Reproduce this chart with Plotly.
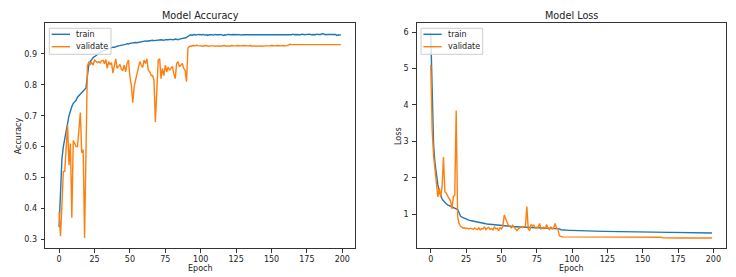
import plotly.graph_objects as go

epochs = list(range(200))

train_acc = [
    0.34, 0.49, 0.56, 0.60, 0.63, 0.655, 0.675, 0.70, 0.72, 0.73,
    0.74, 0.745, 0.75, 0.76, 0.765, 0.772, 0.777, 0.781, 0.785, 0.79,
    0.83, 0.865, 0.875, 0.882, 0.888, 0.891, 0.895, 0.899, 0.903, 0.906,
    0.908, 0.910, 0.912, 0.914, 0.916, 0.918, 0.919, 0.920, 0.922, 0.921,
    0.924, 0.925, 0.926, 0.927, 0.926, 0.929, 0.930, 0.931, 0.933, 0.932,
    0.934, 0.935, 0.934, 0.936, 0.937, 0.936, 0.937, 0.938, 0.940, 0.939,
    0.941, 0.942, 0.941, 0.942, 0.943, 0.942, 0.944, 0.943, 0.944, 0.945,
    0.944, 0.945, 0.946, 0.945, 0.944, 0.946, 0.945, 0.946, 0.947, 0.946,
    0.947, 0.946, 0.948, 0.947, 0.946, 0.948, 0.949, 0.948, 0.949, 0.950,
    0.953, 0.957, 0.961, 0.962, 0.960, 0.963, 0.962, 0.961, 0.963, 0.962,
    0.961, 0.962, 0.963, 0.961, 0.962, 0.960, 0.962, 0.963, 0.962, 0.961,
    0.963, 0.962, 0.961, 0.962, 0.963, 0.962, 0.960, 0.962, 0.961, 0.963,
    0.962, 0.961, 0.962, 0.963, 0.962, 0.961, 0.962, 0.963, 0.961, 0.962,
    0.962, 0.963, 0.961, 0.962, 0.962, 0.961, 0.963, 0.962, 0.961, 0.962,
    0.963, 0.962, 0.961, 0.962, 0.963, 0.962, 0.961, 0.963, 0.962, 0.962,
    0.961, 0.962, 0.963, 0.962, 0.961, 0.962, 0.963, 0.962, 0.962, 0.961,
    0.963, 0.962, 0.962, 0.963, 0.962, 0.964, 0.962, 0.963, 0.962, 0.963,
    0.962, 0.963, 0.964, 0.962, 0.963, 0.962, 0.963, 0.964, 0.962, 0.963,
    0.963, 0.962, 0.964, 0.963, 0.962, 0.963, 0.966, 0.963, 0.962, 0.963,
    0.963, 0.962, 0.963, 0.964, 0.962, 0.963, 0.960, 0.962, 0.961, 0.962,
]

val_acc = [
    0.39, 0.31, 0.41, 0.52, 0.52, 0.61, 0.67, 0.54, 0.61, 0.37,
    0.62, 0.61, 0.60, 0.60, 0.66, 0.71, 0.58, 0.59, 0.304, 0.60,
    0.86, 0.875, 0.866, 0.872, 0.864, 0.88, 0.877, 0.872, 0.875, 0.871,
    0.878, 0.88, 0.868, 0.882, 0.853, 0.875, 0.865, 0.872, 0.838, 0.864,
    0.884, 0.853, 0.858, 0.866, 0.85, 0.847, 0.864, 0.842, 0.869, 0.88,
    0.826, 0.80, 0.742, 0.794, 0.815, 0.837, 0.853, 0.875, 0.864, 0.856,
    0.88, 0.869, 0.884, 0.847, 0.842, 0.83, 0.83, 0.815, 0.68, 0.815,
    0.88, 0.884, 0.82, 0.853, 0.83, 0.864, 0.842, 0.858, 0.847, 0.853,
    0.86, 0.837, 0.82, 0.869, 0.875, 0.858, 0.862, 0.869, 0.853, 0.847,
    0.81, 0.919, 0.924, 0.925, 0.928, 0.927, 0.926, 0.928, 0.927, 0.926,
    0.927, 0.926, 0.925, 0.927, 0.926, 0.926, 0.925, 0.926, 0.927, 0.926,
    0.925, 0.926, 0.927, 0.926, 0.925, 0.926, 0.926, 0.927, 0.925, 0.926,
    0.926, 0.925, 0.927, 0.926, 0.925, 0.926, 0.927, 0.926, 0.925, 0.926,
    0.927, 0.926, 0.925, 0.926, 0.926, 0.927, 0.925, 0.926, 0.926, 0.925,
    0.926, 0.927, 0.926, 0.925, 0.926, 0.927, 0.926, 0.926, 0.925, 0.926,
    0.927, 0.926, 0.925, 0.926, 0.927, 0.926, 0.925, 0.926, 0.927, 0.926,
    0.926, 0.927, 0.930, 0.931, 0.930, 0.930, 0.931, 0.930, 0.929, 0.930,
    0.931, 0.930, 0.930, 0.929, 0.930, 0.931, 0.930, 0.930, 0.931, 0.930,
    0.929, 0.930, 0.931, 0.930, 0.930, 0.931, 0.930, 0.929, 0.930, 0.931,
    0.930, 0.930, 0.931, 0.930, 0.929, 0.930, 0.931, 0.930, 0.930, 0.930,
]

train_loss = [
    5.96, 4.1, 2.9, 2.4, 2.05, 1.82, 1.64, 1.50, 1.42, 1.37,
    1.32, 1.29, 1.26, 1.24, 1.22, 1.19, 1.17, 1.16, 1.15, 1.13,
    1.05, 0.95, 0.92, 0.90, 0.88, 0.865, 0.85, 0.84, 0.83, 0.82,
    0.81, 0.80, 0.79, 0.785, 0.775, 0.77, 0.76, 0.755, 0.745, 0.74,
    0.735, 0.73, 0.725, 0.72, 0.715, 0.71, 0.705, 0.70, 0.695, 0.69,
    0.685, 0.68, 0.678, 0.675, 0.672, 0.67, 0.667, 0.665, 0.662, 0.66,
    0.658, 0.655, 0.653, 0.651, 0.649, 0.647, 0.645, 0.644, 0.642, 0.64,
    0.639, 0.637, 0.636, 0.635, 0.633, 0.632, 0.631, 0.63, 0.628, 0.627,
    0.626, 0.625, 0.624, 0.622, 0.621, 0.62, 0.619, 0.618, 0.617, 0.616,
    0.612, 0.60, 0.578, 0.572, 0.568, 0.565, 0.563, 0.561, 0.56, 0.558,
    0.556, 0.555, 0.554, 0.552, 0.551, 0.55, 0.549, 0.548, 0.547, 0.546,
    0.545, 0.544, 0.543, 0.542, 0.541, 0.54, 0.539, 0.538, 0.537, 0.536,
    0.535, 0.534, 0.533, 0.533, 0.532, 0.531, 0.53, 0.53, 0.529, 0.528,
    0.527, 0.527, 0.526, 0.525, 0.525, 0.524, 0.523, 0.523, 0.522, 0.521,
    0.521, 0.52, 0.519, 0.519, 0.518, 0.517, 0.517, 0.516, 0.515, 0.515,
    0.514, 0.514, 0.513, 0.512, 0.512, 0.511, 0.511, 0.51, 0.509, 0.509,
    0.508, 0.508, 0.507, 0.506, 0.506, 0.505, 0.505, 0.504, 0.504, 0.503,
    0.503, 0.502, 0.502, 0.501, 0.5, 0.5, 0.499, 0.499, 0.498, 0.498,
    0.497, 0.497, 0.496, 0.496, 0.495, 0.495, 0.494, 0.494, 0.493, 0.493,
    0.492, 0.492, 0.491, 0.491, 0.49, 0.49, 0.489, 0.489, 0.488, 0.488,
]

val_loss = [
    5.1, 3.3, 2.6, 2.2, 1.9, 1.48, 1.72, 1.47, 1.75, 2.57,
    1.62, 1.58, 1.50, 1.42, 1.37, 1.15, 1.48, 1.53, 3.85, 0.95,
    0.75, 0.68, 0.65, 0.62, 0.63, 0.61, 0.62, 0.60, 0.62, 0.61,
    0.59, 0.62, 0.60, 0.58, 0.63, 0.57, 0.61, 0.60, 0.66, 0.58,
    0.62, 0.64, 0.59, 0.61, 0.57, 0.66, 0.60, 0.62, 0.55, 0.63,
    0.60, 0.66, 0.98, 0.85, 0.78, 0.70, 0.68, 0.62, 0.70, 0.65,
    0.60, 0.55, 0.60, 0.62, 0.65, 0.63, 0.66, 0.68, 1.21, 0.60,
    0.55, 0.72, 0.68, 0.70, 0.62, 0.65, 0.63, 0.75, 0.60, 0.62,
    0.65, 0.60, 0.72, 0.62, 0.58, 0.65, 0.60, 0.63, 0.75, 0.62,
    0.60, 0.41, 0.39, 0.385, 0.38, 0.38, 0.378, 0.38, 0.376, 0.378,
    0.377, 0.379, 0.376, 0.378, 0.377, 0.375, 0.378, 0.376, 0.377, 0.379,
    0.376, 0.377, 0.375, 0.378, 0.376, 0.377, 0.375, 0.376, 0.378, 0.375,
    0.376, 0.377, 0.375, 0.376, 0.374, 0.377, 0.375, 0.376, 0.374, 0.375,
    0.376, 0.374, 0.375, 0.373, 0.376, 0.374, 0.375, 0.373, 0.374, 0.375,
    0.373, 0.374, 0.372, 0.375, 0.373, 0.374, 0.372, 0.373, 0.374, 0.372,
    0.373, 0.371, 0.374, 0.372, 0.373, 0.371, 0.372, 0.373, 0.371, 0.372,
    0.373, 0.371, 0.372, 0.371, 0.353, 0.351, 0.352, 0.350, 0.351, 0.352,
    0.350, 0.351, 0.349, 0.351, 0.350, 0.352, 0.350, 0.351, 0.349, 0.350,
    0.351, 0.349, 0.350, 0.351, 0.349, 0.350, 0.348, 0.350, 0.349, 0.350,
    0.351, 0.349, 0.350, 0.348, 0.349, 0.350, 0.349, 0.348, 0.349, 0.349,
]

x_ticks = [0, 25, 50, 75, 100, 125, 150, 175, 200]
acc_ticks = [0.3, 0.4, 0.5, 0.6, 0.7, 0.8, 0.9]
loss_ticks = [1, 2, 3, 4, 5, 6]
series_names = ["train", "validate"]

FONT = "DejaVu Sans"
TXT = "#222222"
COLORS = ["#1f77b4", "#ff7f0e"]
W, H = 736, 277


def pad_range(vals, frac=0.05):
    lo, hi = min(vals), max(vals)
    d = (hi - lo) * frac
    return [lo - d, hi + d]


# axes boxes in pixels (left, top, right, bottom)
box1 = (45, 23.3, 355, 248.3)
box2 = (416.7, 23.3, 726, 248.3)


def dom(box):
    l, t, r, b = box
    return [l / W, r / W], [1 - b / H, 1 - t / H]


xd1, yd1 = dom(box1)
xd2, yd2 = dom(box2)

panels = [
    dict(xa="x", ya="y", data=[train_acc, val_acc], title="Model Accuracy",
         ylabel="Accuracy", ylabel_dx=-26.5, ticks=acc_ticks),
    dict(xa="x2", ya="y2", data=[train_loss, val_loss], title="Model Loss",
         ylabel="Loss", ylabel_dx=-17.5, ticks=loss_ticks),
]

fig = go.Figure()
shapes = []
annotations = []
for p in panels:
    for name, color, ys in zip(series_names, COLORS, p["data"]):
        fig.add_trace(go.Scatter(x=epochs, y=ys, name=name, mode="lines",
                                 line=dict(color=color, width=1.4),
                                 xaxis=p["xa"], yaxis=p["ya"], showlegend=False))
    xr = p["xa"] + " domain"
    yr = p["ya"] + " domain"
    # title
    annotations.append(dict(text=p["title"], xref=xr, yref=yr, x=0.5, y=1,
                            xanchor="center", yanchor="middle", yshift=8,
                            showarrow=False, font=dict(family=FONT, size=9.7, color=TXT)))
    # axis labels
    annotations.append(dict(text="Epoch", xref=xr, yref=yr, x=0.5, y=0,
                            xanchor="center", yanchor="middle", yshift=-20.5,
                            showarrow=False, font=dict(family=FONT, size=8, color=TXT)))
    annotations.append(dict(text=p["ylabel"], xref=xr, yref=yr, x=0, y=0.5,
                            xanchor="center", yanchor="middle", xshift=p["ylabel_dx"],
                            textangle=-90, showarrow=False,
                            font=dict(family=FONT, size=8, color=TXT)))
    # legend box (matplotlib style, upper left)
    shapes.append(dict(type="rect", xref=xr, yref=yr, xsizemode="pixel", ysizemode="pixel",
                       xanchor=0, yanchor=1, x0=4.3, x1=66, y0=-5, y1=-31,
                       fillcolor="rgba(255,255,255,0.8)",
                       line=dict(color="#cccccc", width=1), layer="above"))
    for i, (name, color) in enumerate(zip(series_names, COLORS)):
        yoff = -11 - 12.4 * i
        shapes.append(dict(type="line", xref=xr, yref=yr, xsizemode="pixel",
                           ysizemode="pixel", xanchor=0, yanchor=1, x0=6.7, x1=25,
                           y0=yoff, y1=yoff, line=dict(color=color, width=1.4),
                           layer="above"))
        annotations.append(dict(text=name, xref=xr, yref=yr, x=0, y=1,
                                xanchor="left", yanchor="middle", xshift=29,
                                yshift=yoff, showarrow=False,
                                font=dict(family=FONT, size=8, color=TXT)))

axis_common = dict(
    showline=True, linecolor="#333333", linewidth=0.8, mirror=True,
    ticks="outside", ticklen=3.5, tickwidth=0.8, tickcolor="#333333",
    showgrid=False, zeroline=False,
    tickfont=dict(family=FONT, size=8, color=TXT),
    automargin=False,
)

fig.update_layout(
    width=W, height=H,
    margin=dict(l=0, r=0, t=0, b=0),
    paper_bgcolor="white", plot_bgcolor="white",
    font=dict(family=FONT, size=8, color=TXT),
    showlegend=False,
    xaxis=dict(domain=xd1, anchor="y", range=pad_range(epochs), tickvals=x_ticks,
               **axis_common),
    yaxis=dict(domain=yd1, anchor="x", range=pad_range(train_acc + val_acc),
               tickvals=acc_ticks, ticklabelstandoff=2, **axis_common),
    xaxis2=dict(domain=xd2, anchor="y2", range=pad_range(epochs), tickvals=x_ticks,
                **axis_common),
    yaxis2=dict(domain=yd2, anchor="x2", range=pad_range(train_loss + val_loss),
                tickvals=loss_ticks, ticklabelstandoff=2, **axis_common),
    shapes=shapes,
    annotations=annotations,
)

fig.write_html(
    "out.html",
    config={"displayModeBar": False},
    post_script="document.body.style.margin='0';document.body.style.overflow='hidden';",
)
